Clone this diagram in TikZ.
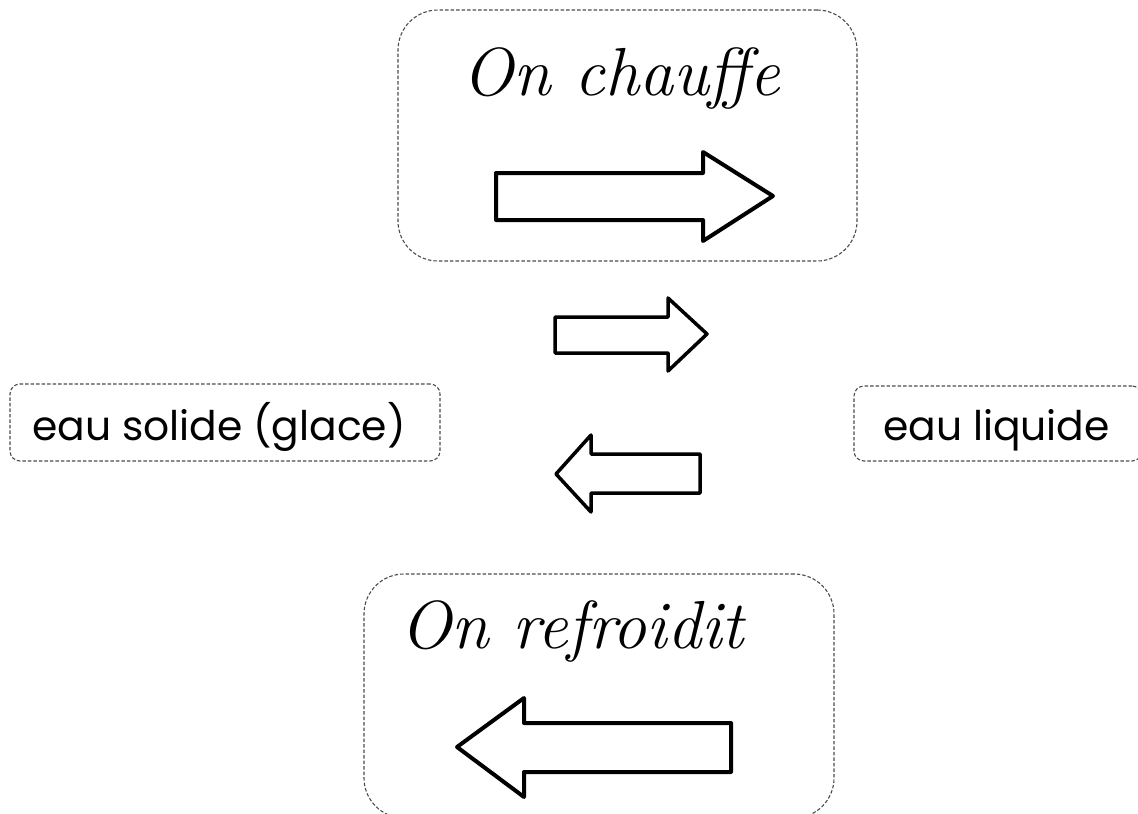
\documentclass[tikz,border=0pt]{standalone}
\usepackage{fontspec}
\newfontfamily\sansfont{Poppins}
\begin{document}
\begin{tikzpicture}[x=1pt,y=-1pt,
  dashbox/.style={draw=black!70, line width=1.1pt, dash pattern=on 3.5pt off 2pt, inner sep=0pt},
  blockarrow/.style={draw=black, line width=4pt, line join=round, fill=white},
  midarrow/.style={draw=black, line width=3.5pt, line join=round, fill=white},
  cursive/.style={inner sep=0pt, anchor=base west, font=\fontsize{68}{74}\selectfont\itshape},
  label/.style={inner sep=0pt, anchor=base west, font=\sansfont\fontsize{40.8}{46}\selectfont}]
\useasboundingbox (0,0) rectangle (1138,814);
\clip (0,0) rectangle (1138,814);
\fill[white] (0,0) rectangle (1138,814);
% boxes
\node[dashbox, rounded corners=40pt, minimum width=459pt, minimum height=251pt] (topbox) at (627.5,135.5) {};
\node[dashbox, rounded corners=40pt, minimum width=470pt, minimum height=244pt] (botbox) at (599,696) {};
\node[dashbox, rounded corners=10pt, minimum width=430pt, minimum height=77pt] (solid) at (225,422.5) {};
\node[dashbox, rounded corners=10pt, minimum width=288pt, minimum height=75pt] (liquid) at (998,423.5) {};
% texts
\node[cursive] (chauffe) at (462,95) {On chauffe};
\node[cursive] (refroid) at (400,648) {On refroidit};
\node[label] (solidtxt) at (32,440) {eau solide (glace)};
\node[label] (liquidtxt) at (883,440) {eau liquide};
% block arrows
\draw[blockarrow] (496,173) -- (703,173) -- (703,152) -- (773,196) -- (703,241) -- (703,220) -- (496,220) -- cycle;
\draw[midarrow] (555,317) -- (668,317) -- (668,298) -- (707,334) -- (668,371) -- (668,353) -- (555,353) -- cycle;
\draw[midarrow] (700,454) -- (591,454) -- (591,435) -- (556,474) -- (591,512) -- (591,493) -- (700,493) -- cycle;
\draw[blockarrow] (731,723) -- (524,723) -- (524,698) -- (457,747) -- (524,797) -- (524,772) -- (731,772) -- cycle;
\end{tikzpicture}
\end{document}
